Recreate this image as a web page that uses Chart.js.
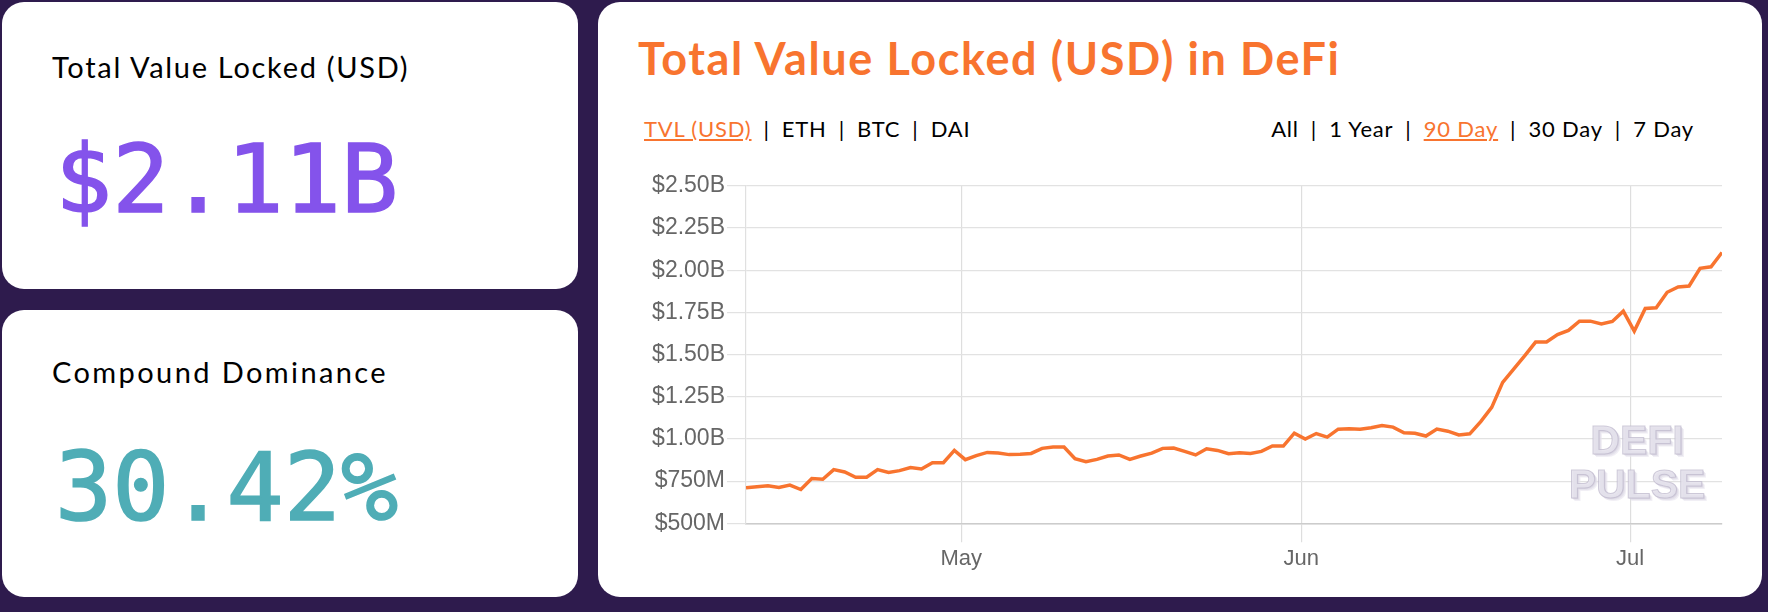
<!DOCTYPE html>
<html>
<head>
<meta charset="utf-8">
<script src="https://cdn.jsdelivr.net/npm/chart.js@4"></script>
<style>
  html, body {
    margin: 0;
    padding: 0;
    width: 1768px;
    height: 612px;
    background: #2e1b4d;
    overflow: hidden;
    font-family: "Lato", "Open Sans", sans-serif;
  }
  .card {
    position: absolute;
    background: #fff;
    border-radius: 22px;
  }
  .label {
    position: absolute;
    left: 50px;
    font-size: 29px;
    line-height: 29px;
    color: #000;
    white-space: nowrap;
  }
  .big {
    position: absolute;
    left: 53px;
    font-family: "DejaVu Sans Mono", monospace;
    font-size: 95px;
    line-height: 95px;
    -webkit-text-stroke: 1.6px currentColor;
    white-space: nowrap;
  }
  .title {
    position: absolute;
    left: 40px;
    top: 34px;
    font-size: 45px;
    line-height: 45px;
    font-weight: bold;
    letter-spacing: 1.6px;
    color: #f8742f;
    white-space: nowrap;
  }
  .links {
    position: absolute;
    top: 116px;
    font-size: 22px;
    line-height: 22px;
    letter-spacing: 0.8px;
    color: #000;
    white-space: nowrap;
  }
  .links a {
    color: #000;
    text-decoration: none;
  }
  .links a.on {
    color: #f8742f;
    text-decoration: underline;
  }
  .links span {
    margin: 0 12px;
  }
  #wrap {
    position: absolute;
    left: 620px;
    top: 170px;
    width: 1120px;
    height: 420px;
  }
  .mark {
    position: absolute;
    left: 1537px;
    top: 418px;
    width: 200px;
    text-align: center;
    font-family: "Liberation Sans", Arial, sans-serif;
    font-weight: bold;
    font-size: 41px;
    line-height: 44px;
    color: rgba(230, 227, 237, 0.8);
    -webkit-text-stroke: 1px rgba(190, 184, 204, 0.7);
    text-shadow: 1px 1px 0 rgba(210, 205, 220, 0.6), 2px 2px 0 rgba(222, 218, 230, 0.6), 3px 3px 0 rgba(232, 229, 238, 0.6);
    pointer-events: none;
  }
</style>
</head>
<body>
  <div class="card" style="left:2px; top:2px; width:576px; height:287px;">
    <div class="label" style="top:50px; letter-spacing:1.7px;">Total Value Locked (USD)</div>
    <div class="big" style="top:130px; color:#8453eb;">$2.11B</div>
  </div>
  <div class="card" style="left:2px; top:310px; width:576px; height:287px;">
    <div class="label" style="top:47px; letter-spacing:2.4px;">Compound Dominance</div>
    <div class="big" style="top:130px; color:#4fadb6;">30.42%</div>
  </div>
  <div class="card" style="left:598px; top:2px; width:1164px; height:595px;">
    <div class="title">Total Value Locked (USD) in DeFi</div>
    <div class="links" style="left:46px;">
      <a class="on">TVL (USD)</a><span>|</span><a>ETH</a><span>|</span><a>BTC</a><span>|</span><a>DAI</a>
    </div>
    <div class="links" style="right:68px;">
      <a>All</a><span>|</span><a>1 Year</a><span>|</span><a class="on">90 Day</a><span>|</span><a>30 Day</a><span>|</span><a>7 Day</a>
    </div>
  </div>
  <div id="wrap"><canvas id="myChart"></canvas></div>
  <div class="mark">DEFI<br>PULSE</div>

<script>
// daily TVL in billions USD, first point Apr 11 2020
const startDate = "2020-04-11T09:00:00Z";
const tvl = [
  0.710, 0.716, 0.722, 0.712, 0.726, 0.700, 0.765, 0.761, 0.818, 0.804,
  0.773, 0.773, 0.818, 0.801, 0.812, 0.830, 0.822, 0.859, 0.859, 0.932,
  0.877, 0.901, 0.920, 0.916, 0.907, 0.909, 0.914, 0.944, 0.952, 0.952,
  0.883, 0.865, 0.879, 0.899, 0.905, 0.879, 0.899, 0.916, 0.944, 0.946,
  0.926, 0.905, 0.942, 0.932, 0.912, 0.918, 0.914, 0.926, 0.958, 0.958,
  1.034, 0.999, 1.032, 1.011, 1.058, 1.060, 1.058, 1.066, 1.079, 1.070,
  1.036, 1.034, 1.017, 1.058, 1.046, 1.024, 1.030, 1.103, 1.187, 1.335,
  1.413, 1.492, 1.574, 1.574, 1.618, 1.643, 1.698, 1.698, 1.681, 1.696,
  1.757, 1.639, 1.773, 1.777, 1.869, 1.901, 1.906, 2.011, 2.020, 2.105
];

const monthDates = ["2020-05-01T00:00:00Z", "2020-06-01T00:00:00Z", "2020-07-01T00:00:00Z"];
const monthLabels = ["May", "Jun", "Jul"];
const yTickLabels = ["$500M", "$750M", "$1.00B", "$1.25B", "$1.50B", "$1.75B", "$2.00B", "$2.25B", "$2.50B"];

const DAY = 86400000;
const t0 = Date.parse(startDate);
const monthPos = monthDates.map(d => (Date.parse(d) - t0) / DAY);
const points = tvl.map((v, i) => ({ x: i, y: v }));

const ctx = document.getElementById("myChart");

new Chart(ctx, {
  type: "line",
  data: {
    datasets: [
      {
        label: "TVL (USD)",
        data: points,
        borderColor: "#f8742f",
        borderWidth: 3.5,
        pointRadius: 0,
        tension: 0,
        fill: false,
      },
    ],
  },
  options: {
    responsive: true,
    maintainAspectRatio: false,
    animation: false,
    layout: {
      padding: { top: 14, right: 18, left: 0, bottom: 0 },
    },
    plugins: {
      legend: { display: false },
      tooltip: { enabled: false },
    },
    scales: {
      x: {
        type: "linear",
        min: 0,
        max: tvl.length - 1,
        afterBuildTicks: (scale) => {
          scale.ticks = monthPos.map(v => ({ value: v }));
        },
        afterFit: (scale) => {
          scale.height = 66.7;
        },
        grid: {
          color: "#dedede",
          lineWidth: 1.2,
          tickLength: 19,
        },
        border: { color: "#cccccc", width: 1.5 },
        ticks: {
          autoSkip: false,
          maxRotation: 0,
          padding: 3,
          color: "#666",
          font: { family: "Liberation Sans", size: 22 },
          callback: (value, index) => monthLabels[index],
        },
      },
      y: {
        min: 0.5,
        max: 2.5,
        afterBuildTicks: (scale) => {
          scale.ticks = yTickLabels.map((s, i) => ({ value: 0.5 + i * 0.25 }));
        },
        afterFit: (scale) => {
          scale.width = 126;
        },
        grid: {
          color: "#e2e2e2",
          lineWidth: 1.2,
          tickLength: 19,
        },
        border: { color: "#e0e0e0", width: 1.2 },
        ticks: {
          padding: 2,
          color: "#666",
          font: { family: "Liberation Sans", size: 23 },
          callback: (value, index) => yTickLabels[index],
        },
      },
    },
  },
});
</script>
</body>
</html>
